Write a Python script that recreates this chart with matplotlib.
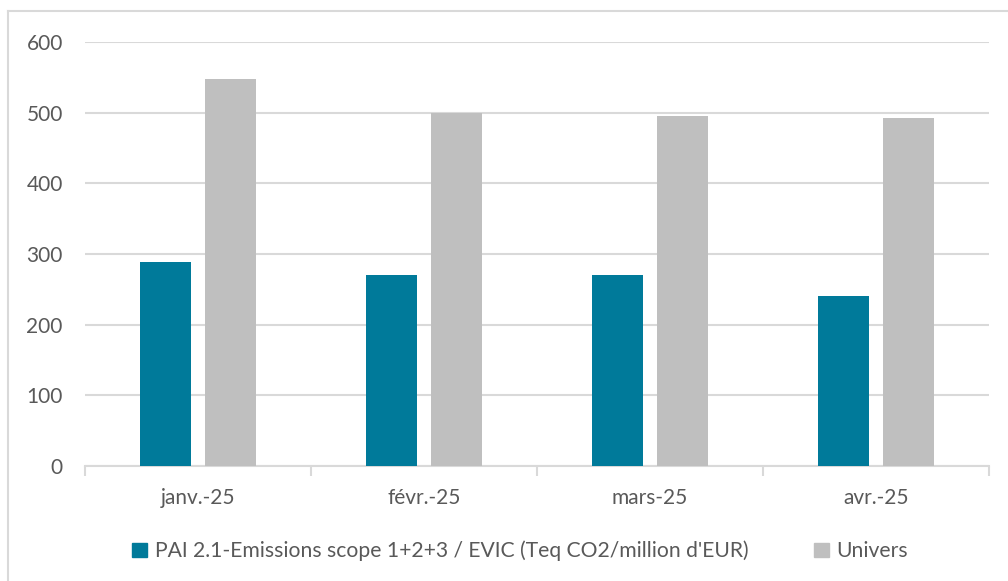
import matplotlib
matplotlib.use("Agg")
import matplotlib.pyplot as plt
import numpy as np
from matplotlib.lines import Line2D
from matplotlib.patches import Patch

categories = ["janv.-25", "févr.-25", "mars-25", "avr.-25"]
pai_values = [289, 270, 270, 240]
univers_values = [547, 499, 495, 492]
series_names = ["PAI 2.1-Emissions scope 1+2+3 / EVIC (Teq CO2/million d'EUR)", "Univers"]
yticks = [0, 100, 200, 300, 400, 500, 600]

teal = "#007A9A"
gray = "#BFBFBF"
txt = "#595959"
grid = "#D9D9D9"

plt.rcParams['font.family'] = ['Lato', 'DejaVu Sans']

W, H = 1008, 581
fig = plt.figure(figsize=(W / 100, H / 100), dpi=100)
ax = fig.add_axes([85 / W, 1 - 466 / H, (989 - 85) / W, (466 - 42) / H])

x = np.arange(len(categories))
bw = 0.226
off = 0.1438
ax.bar(x - off, pai_values, bw, color=teal, zorder=3)
ax.bar(x + off, univers_values, bw, color=gray, zorder=3)

ax.set_xlim(-0.5, len(categories) - 0.5)
ax.set_ylim(0, 600)
ax.set_yticks(yticks)
ax.set_yticklabels([str(v) for v in yticks], fontsize=15, color=txt)
ax.yaxis.grid(True, color=grid, linewidth=1.5, zorder=0)
ax.tick_params(axis='y', length=0, pad=16)

ax.set_xticks(x)
ax.set_xticklabels(categories, fontsize=15, color=txt)
ax.tick_params(axis='x', length=0, pad=16)
ax.set_xticks(np.arange(len(categories) + 1) - 0.5, minor=True)
ax.tick_params(axis='x', which='minor', length=7, width=1.5, color=grid)

for s in ["top", "right", "left"]:
    ax.spines[s].set_visible(False)
ax.spines["bottom"].set_color(grid)
ax.spines["bottom"].set_linewidth(1.5)

# outer chart border (partially cropped)
fig.add_artist(Line2D([8 / W, 8 / W], [0, 1 - 11 / H], transform=fig.transFigure, color=grid, lw=1.5))
fig.add_artist(Line2D([8 / W, 1], [1 - 11 / H, 1 - 11 / H], transform=fig.transFigure, color=grid, lw=1.5))

handles = [Patch(color=teal), Patch(color=gray)]
leg = fig.legend(handles, series_names, loc='center', bbox_to_anchor=(520 / W, 1 - 551 / H),
                 ncol=2, frameon=False, fontsize=15.2, labelcolor=txt, handlelength=0.7,
                 handleheight=0.7, handletextpad=0.35, columnspacing=3.1)

fig.savefig("out.png", dpi=100)
